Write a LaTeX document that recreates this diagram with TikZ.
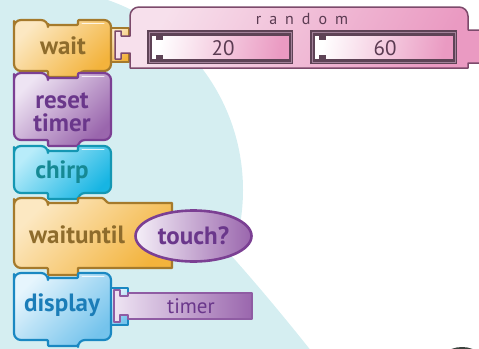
\documentclass[tikz,border=0pt]{standalone}
\usepackage{fontspec}
\setmainfont{PT Sans}
\newfontfamily\spacedfont[LetterSpace=50]{PT Sans}
\usetikzlibrary{shapes.geometric}

\definecolor{bgblue}{HTML}{D5EEF1}
\definecolor{waitlight}{HTML}{FCE8C2}
\definecolor{waitdark}{HTML}{F3B33C}
\definecolor{waitline}{HTML}{A57A2C}
\definecolor{waittext}{HTML}{8E6C2C}
\definecolor{purplight}{HTML}{EEE4F3}
\definecolor{purpdark}{HTML}{9A66AD}
\definecolor{purpline}{HTML}{7B3F93}
\definecolor{purptext}{HTML}{6A378B}
\definecolor{cyanlight}{HTML}{B8ECFA}
\definecolor{cyandark}{HTML}{17B5E3}
\definecolor{cyanline}{HTML}{1497B3}
\definecolor{cyantext}{HTML}{168994}
\definecolor{bluelight}{HTML}{E6F5FD}
\definecolor{bluedark}{HTML}{74C3EC}
\definecolor{blueline}{HTML}{1A88C2}
\definecolor{bluetext}{HTML}{1B7DB8}
\definecolor{pinklight}{HTML}{F7E0EC}
\definecolor{pinkdark}{HTML}{EA9AC2}
\definecolor{pinkline}{HTML}{7C4A6B}
\definecolor{slotframe}{HTML}{5E4356}
\definecolor{slotmid}{HTML}{A3829A}
\definecolor{slottext}{HTML}{5B3B52}
\definecolor{darkblob}{HTML}{3B433E}

% stack block: style, top, bottom, right edge
\newcommand{\stackblock}[4]{%
  \draw[#1] (14,#2+8) [rounded corners=7] -- (14,#2) -- (48,#2) [rounded corners=1] -- (48,#2+5) -- (78,#2+5) -- (78,#2) [rounded corners=7] -- (#4,#2) -- (#4,#3) -- (78,#3) [rounded corners=1] -- (78,#3+6) -- (48,#3+6) -- (48,#3) [rounded corners=7] -- (14,#3) -- cycle;
  \draw[gloss] (82,#2+3) -- (#4-7,#2+3);}

% argument slot of random: left, right
\newcommand{\argslot}[2]{%
  \fill[slotframe] (#1,30) rectangle (#2,64);
  \draw[slotmid, line width=0.8] (#1+2,32) rectangle (#2-2,62);
  \draw[slotframe, line width=1, left color=white, right color=pinkdark, shading angle=80] (#1+4,35) -- (#1+9,35) -- (#1+9,39) -- (#1+15,39) -- (#1+15,35) -- (#2-4,35) -- (#2-4,59) -- (#1+15,59) -- (#1+15,55) -- (#1+9,55) -- (#1+9,59) -- (#1+4,59) -- cycle;}

\begin{document}
\begin{tikzpicture}[x=1pt, y=-1pt,
  blockline/.style={line width=2.2, line join=round},
  gloss/.style={white, line width=1, opacity=0.8, line cap=round},
  waitblock/.style={blockline, draw=waitline, left color=waitlight, right color=waitdark, shading angle=45},
  resetblock/.style={blockline, draw=purpline, left color=purplight, right color=purpdark, shading angle=45},
  chirpblock/.style={blockline, draw=cyanline, left color=cyanlight, right color=cyandark, shading angle=45},
  displayblock/.style={blockline, draw=blueline, left color=bluelight, right color=bluedark, shading angle=45},
  randomblock/.style={line width=1.5, line join=round, draw=pinkline, left color=pinklight, right color=pinkdark, shading angle=60},
  timerblock/.style={line width=1.5, line join=round, draw=purpline!85, left color=purplight, right color=purpdark, shading angle=90},
  label/.style={inner sep=0pt, font=\bfseries\fontsize{25}{23}\selectfont},
  numlabel/.style={inner sep=0pt, text=slottext, font=\fontsize{21}{22}\selectfont},
]
\clip (0,0) rectangle (479,348);

% background
\fill[bgblue] (42,190) circle [radius=201];
\fill[bgblue] (200,240) -- (228,252) .. controls (255,282) and (285,318) .. (312,352) -- (100,352) -- cycle;
\fill[darkblob] (462,370) ellipse [x radius=26, y radius=23];

% sockets
\draw[waitblock, line width=1.8] (111,28) rectangle (129,62);
\draw[displayblock, line width=1.8] (111,288) rectangle (128,325);

% stack
\stackblock{waitblock}{20}{71}{111}
\stackblock{resetblock}{73}{140}{111}
\stackblock{chirpblock}{146}{193}{111}
\draw[waitblock] (14,206) [rounded corners=7] -- (14,198) -- (48,198) [rounded corners=1] -- (48,203) -- (78,203) -- (78,198) -- (103,198) -- (108,203) [sharp corners] -- (172,203) -- (172,268) -- (78,268) [rounded corners=1] -- (78,275) -- (48,275) -- (48,268) [rounded corners=7] -- (14,268) -- cycle;
\stackblock{displayblock}{273}{340}{111}

% random reporter
\draw[randomblock] (130,36) [rounded corners=9] -- (130,7) -- (468,7) [sharp corners] -- (468,30) -- (485,30) -- (485,63) -- (468,63) -- (468,68) -- (130,68) -- (130,53) -- (121,53) -- (121,59) -- (115,59) -- (115,31) -- (121,31) -- (121,36) -- cycle;
\argslot{147}{293}
\argslot{310}{457}

% timer reporter
\draw[timerblock] (128,296) -- (128,293) -- (252,293) -- (252,319) -- (128,319) -- (128,315) -- (120,315) -- (120,322) -- (114,322) -- (114,290) -- (120,290) -- (120,296) -- cycle;

% touch? sensor
\node[ellipse, draw=purpline, line width=2.6, left color=purplight!60!white, right color=purpdark, minimum width=116, minimum height=51, inner sep=0pt, font=\bfseries\fontsize{25}{23}\selectfont, text=purptext] (touch) at (193.5,236) {touch?};

% labels
\node[label, text=waittext] (waitlbl) at (63,46) {wait};
\node[label, text=purptext, align=center] (resetlbl) at (62,112) {reset\\timer};
\node[label, text=cyantext] (chirplbl) at (62,172) {chirp};
\node[label, text=waittext] (untillbl) at (77,235) {waituntil};
\node[label, text=bluetext] (displaylbl) at (62,305) {display};
\node[inner sep=0pt, text=purptext, font=\fontsize{21}{22}\selectfont] (timerlbl) at (191,306) {timer};
\node[inner sep=0pt, text=slottext, font=\spacedfont\fontsize{16}{18}\selectfont] (randomlbl) at (302,19) {random};
\node[numlabel] (lowlbl) at (223,48) {20};
\node[numlabel] (highlbl) at (385,48) {60};
\end{tikzpicture}
\end{document}
